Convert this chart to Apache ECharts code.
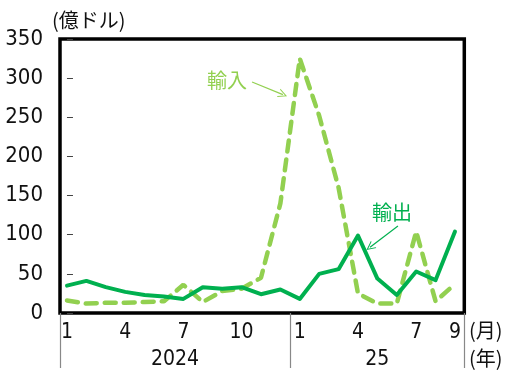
<!DOCTYPE html>
<html>
<head>
<meta charset="utf-8">
<script src="https://cdn.jsdelivr.net/npm/echarts@6/dist/echarts.min.js"></script>
<style>
  html, body { margin: 0; padding: 0; background: #fff; }
  #chart { width: 519px; height: 370px; }
</style>
</head>
<body>
<div id="chart"></div>
<script>
// Monthly trade, Jan 2024 – Sep 2025 (100 million USD)
const months = ['1','2','3','4','5','6','7','8','9','10','11','12',
                '1','2','3','4','5','6','7','8','9'];
const years = ['2024', '25'];
const yearStart = [0, 12];           // index in months where each year begins
const exportValues = [35, 41, 33, 27, 23, 21, 18, 33, 31, 33, 24, 30,
                      18, 50, 56, 99, 44, 23, 53, 42, 104];
const importValues = [16, 12, 13, 13, 14, 15, 36, 14, 28, 31, 45, 140,
                      325, 252, 160, 25, 12, 12, 104, 15, 37];
const yTicks = [0, 50, 100, 150, 200, 250, 300, 350];

const EXPORT_COLOR = '#00B04F';
const IMPORT_COLOR = '#92D050';
const NUM_FONT = '"Liberation Sans Narrow", "DejaVu Sans Condensed", "DejaVu Sans", sans-serif';
const CJK_FONT = '"Noto Sans CJK JP", sans-serif';

// horizontal extent of the frame, in month-index units
const X_MIN = -0.36;
const X_MAX = 20.48;

const toPairs = vals => vals.map((v, i) => [i, v]);

// month labels every quarter plus the final month
const monthLabelIdx = months
  .map((m, i) => i)
  .filter(i => (Number(months[i]) % 3 === 1) || i === months.length - 1);

// year separators and year label centres
const yearBounds = yearStart.map((s, k) => {
  const lo = k === 0 ? X_MIN : s - 0.5;
  const hi = k === yearStart.length - 1 ? X_MAX : yearStart[k + 1] - 0.5;
  return [lo, hi];
});
const sepValues = [X_MIN + 0.01].concat(yearStart.slice(1).map(s => s - 0.5), [X_MAX - 0.01]);
const yearCenters = yearBounds.map(b => (b[0] + b[1]) / 2);

const open_arrow = 'path://M0,10 L5,0 L10,10 L8.8,10 L5,2.4 L1.2,10 Z';

const chart = echarts.init(document.getElementById('chart'), null, { renderer: 'canvas' });

chart.setOption({
  animation: false,
  backgroundColor: '#fff',
  grid: {
    left: 60, right: 54.7, top: 39, bottom: 56.7,
    show: true, borderColor: '#000', borderWidth: 3.5, backgroundColor: 'transparent'
  },
  xAxis: [
    {
      type: 'value', min: X_MIN, max: X_MAX, position: 'bottom',
      axisLine: { show: false }, axisTick: { show: false }, splitLine: { show: false },
      axisLabel: {
        customValues: monthLabelIdx,
        formatter: v => months[Math.round(v)],
        fontFamily: NUM_FONT, fontSize: 21, color: '#111', margin: 9
      }
    },
    {
      type: 'value', min: X_MIN, max: X_MAX, position: 'bottom',
      axisLine: { show: false }, splitLine: { show: false },
      axisTick: {
        show: true, customValues: sepValues, length: 55, inside: false,
        lineStyle: { color: '#888', width: 1.2 }
      },
      axisLabel: {
        customValues: yearCenters,
        formatter: v => years[yearCenters.findIndex(c => Math.abs(c - v) < 1e-6)],
        fontFamily: NUM_FONT, fontSize: 21, color: '#111', margin: 36
      }
    }
  ],
  yAxis: {
    type: 'value', min: 0, max: 350, interval: 50,
    axisLine: { show: false },
    axisTick: { show: true, inside: true, length: 6, lineStyle: { color: '#444', width: 1 } },
    splitLine: { show: false },
    axisLabel: {
      formatter: v => (yTicks.includes(v) ? String(v) : ''),
      fontFamily: NUM_FONT, fontSize: 22, color: '#111', margin: 17
    }
  },
  series: [
    {
      name: '輸入', type: 'line', data: toPairs(importValues),
      showSymbol: false, symbol: 'none', z: 3,
      lineStyle: { color: IMPORT_COLOR, width: 4.5, type: [11, 8], cap: 'round' },
      markPoint: {
        symbol: 'rect', symbolSize: [44, 24], silent: true,
        itemStyle: { color: 'rgba(0,0,0,0)' },
        label: { show: true, position: 'inside', formatter: '輸入',
                 fontFamily: CJK_FONT, fontSize: 20, color: IMPORT_COLOR },
        data: [{ coord: [8.25, 297] }]
      },
      markLine: {
        silent: true, symbol: ['none', open_arrow], symbolSize: [9, 9],
        label: { show: false },
        lineStyle: { color: IMPORT_COLOR, width: 1.2, type: 'solid' },
        data: [[{ coord: [9.54, 295] }, { coord: [11.13, 279] }]]
      }
    },
    {
      name: '輸出', type: 'line', data: toPairs(exportValues),
      showSymbol: false, symbol: 'none', z: 4,
      lineStyle: { color: EXPORT_COLOR, width: 4, cap: 'round', join: 'round' },
      markPoint: {
        symbol: 'rect', symbolSize: [44, 24], silent: true,
        itemStyle: { color: 'rgba(0,0,0,0)' },
        label: { show: true, position: 'inside', formatter: '輸出',
                 fontFamily: CJK_FONT, fontSize: 20, color: EXPORT_COLOR },
        data: [{ coord: [16.75, 129] }]
      },
      markLine: {
        silent: true, symbol: ['none', open_arrow], symbolSize: [9, 9],
        label: { show: false },
        lineStyle: { color: EXPORT_COLOR, width: 1.2, type: 'solid' },
        data: [[{ coord: [17.06, 111] }, { coord: [15.62, 84] }]]
      }
    }
  ],
  graphic: [
    { type: 'text', left: 52, top: 10,
      style: { text: '(億ドル)', font: '20px ' + CJK_FONT, fill: '#111' } },
    { type: 'text', left: 469, top: 320,
      style: { text: '(月)', font: '20px ' + CJK_FONT, fill: '#111' } },
    { type: 'text', left: 469, top: 348,
      style: { text: '(年)', font: '20px ' + CJK_FONT, fill: '#111' } }
  ]
});
</script>
</body>
</html>
